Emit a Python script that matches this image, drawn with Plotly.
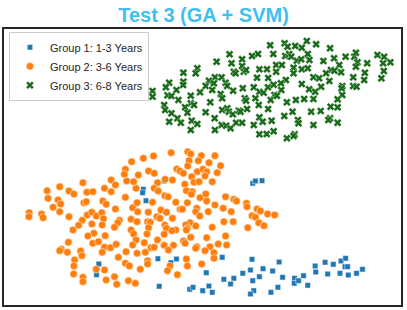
import plotly.graph_objects as go

# Embedding coordinates (dim1 to the right, dim2 downward in image terms)
g1_x = [99.3, 97, 165, 144, 143.3, 146.7, 254, 256.7, 263.3, 158.7, 177.3, 171.7, 223.3, 253.3,
        207.3, 251.7, 264.3, 274, 244, 260.7, 225, 235, 280.5,
        284, 279.3, 272.3, 296, 295.7, 300, 305, 309.3, 316.7, 317.3, 326.7, 329.3, 335, 342.7,
        347.3, 346.7, 349.3, 341.7, 350, 358.3, 364.3,
        160, 190.7, 194, 203.7, 210, 213.3, 231.7, 254, 255, 251.7]
g1_y = [264, 274.7, 181, 189.3, 192.7, 200.7, 183.3, 181, 180.7, 258.7, 259, 262.7, 257.3, 259.3,
        272.7, 270, 268.7, 271, 273.3, 276.7, 279.3, 278.3, 262,
        277.3, 287.3, 292.3, 278.3, 283.3, 280.7, 275.7, 285.3, 266, 272, 262.3, 274, 264.3, 261,
        258.3, 266.7, 266.7, 273.3, 275, 273.3, 269.3,
        286.3, 289.3, 287.3, 290.7, 286, 292.3, 284, 280.7, 290.7, 294]

g2_x = [132.3, 126, 125, 139, 83.3, 111.7, 116, 127.3, 136.7, 60, 47.3, 69.3, 74.3, 87.3, 93.3, 105,
        111.7, 126, 48.3, 58.3, 61, 53.3, 60, 84.3, 86.7, 103.3, 106.7, 116, 133.3, 137.7, 138.3,
        29.3, 29, 41.7, 43.3, 69.3, 87.7, 92.3, 96.7, 102.3, 104, 82.7, 120, 118.3, 131.7, 137.7,
        79, 73.3, 92.3, 102.7, 115, 94.3, 88.3, 105.7, 131.7, 134.3, 68.7, 93.3, 99, 136.7, 133.3,
        105, 111, 116.7, 61.7, 60, 67.7, 81, 82.3, 102.7, 119, 126.7, 137.7, 75, 96.7, 105, 74.3,
        126, 130, 115, 74, 83.3, 106.7, 83.3, 117.3, 129, 136,
        144, 154.3, 172, 188.7, 191.7, 202.3, 216, 190, 199.3, 210, 221.7, 188.7, 149.3, 155,
        177.7, 180.7, 184.3, 192.7, 198.3, 204, 207.7, 206, 218.3, 134.3, 166, 173.3, 158.3, 195,
        200, 213.3, 185.7, 155, 159, 187.3, 193.3, 192.3, 206.7, 165.7, 169, 153.3, 176.7, 188.3,
        201, 207.7, 226.7, 235, 237.7, 216, 224.3, 247.7, 248.3, 149, 161.7, 167.3, 181, 183.3,
        197.7, 196.7, 209.3, 200.7, 232.3, 258.3, 261.7, 269, 276, 253.3, 256.7, 148.3, 151, 157.7,
        160.7, 173.3, 191, 186.7, 196.7, 225, 234.3, 260, 265.3, 249, 149.3, 165.7, 167.3, 176.7,
        172.7, 188.3, 187.3, 213.3, 147.7, 165, 207.7, 191.7, 226.7, 158.3, 145, 184.3, 186, 165,
        174.3, 197.7, 196.7, 211, 219.3, 227.7, 206, 215, 151.7, 155, 169.3, 146, 148.3, 148.3,
        170.7, 187.3, 215, 188.3, 202.7, 141, 168.3, 178.3]
g2_y = [161.7, 169.3, 174.3, 175, 182.7, 180, 185, 181, 188.3, 186.7, 190.7, 191, 194, 192.3, 191.7,
        188.3, 191.7, 197.3, 198.3, 200, 204, 207.3, 211.7, 202.7, 201.7, 201, 204.3, 209, 207.7,
        202.7, 211.7, 212.7, 216.7, 214, 217.7, 216.7, 215, 212.3, 216, 212.7, 218.7, 220.3, 220.3,
        222.7, 219.3, 221.7, 225.3, 230, 224, 225, 227.3, 233.3, 236, 235.7, 230, 234, 242.3, 243.3,
        241.7, 240, 245, 247.3, 247.7, 244.3, 249.3, 250.7, 252.3, 251, 255.7, 252.3, 257.3, 251.7,
        253.3, 260, 269.3, 270, 266, 263.3, 266, 276.7, 274, 277.3, 280, 281.7, 284.3, 280.7, 283.3,
        158.3, 156, 152.7, 151.7, 154, 155.7, 155.7, 160.7, 160.7, 162.7, 165.7, 166, 171, 173.3,
        169, 171, 173.3, 176.7, 171.7, 169.3, 171.7, 176, 172.7, 181.7, 179.3, 180, 182.7, 182.3,
        181.7, 181.7, 184.3, 188.3, 191, 190.7, 191.7, 194.3, 194, 195.7, 196.7, 202.3, 202.3, 202.7,
        197.7, 201, 196.7, 199.3, 201, 205, 208.3, 203.3, 206.7, 212.3, 210, 212.3, 209.3, 209.3,
        208.3, 211.7, 211.7, 216, 211.7, 209, 211, 214, 215, 215.7, 217.3, 221.7, 222.3, 216.7,
        218.3, 218.3, 222.7, 225, 226, 221.7, 221.7, 222.7, 225.7, 227.7, 227.7, 225, 228.3, 230,
        230.7, 228.3, 230, 227.3, 234, 234.3, 237.7, 237.3, 236, 240, 242.7, 241, 243.3, 245.3,
        245.3, 246.7, 248.3, 246.7, 244, 245, 250.7, 252.7, 247.7, 247.3, 250, 252.3, 260.7, 264,
        266, 259, 258.3, 266, 264, 269.3, 270.7, 274.7]

g3_x = [153.3, 153.3, 271.5, 230.7, 243.3, 253.3, 259.3, 217.7, 232.7, 243.3, 245, 247.3, 235, 236.7,
        260.7, 268.3, 277.5, 277.5, 198.3, 196.7, 184.3, 258.3, 269.5, 216, 210, 222.7, 184.3, 184,
        170, 166.7, 177.3, 215, 206.7, 213.3, 226.7, 228.3, 234.3, 244, 255, 260.7, 265, 269.3, 275,
        275.8, 201, 191.7, 168.3, 172.3, 179.3, 191.7, 211.3, 221.7, 223.3, 246, 247.3, 256.7, 272,
        260, 269.5, 165, 166, 172.3, 186, 188.3, 195, 206.7, 223.3, 228.3, 230, 234, 240, 241.7,
        248.3, 170, 178.3, 181.7, 192.7, 198.3, 215.7, 222.7, 227.3, 231.7, 237.3, 243.3, 255,
        260.7, 264, 273, 191.7, 216, 260.7, 268, 275,
        286, 289, 296.7, 303.3, 308.3, 317.7, 331.7, 274.7, 286.7, 290.7, 292.7, 298.3, 302.7,
        309.3, 311, 325, 335.7, 347.3, 356, 357.7, 379.3, 386, 359.3, 369, 385, 392.3, 283.3, 341,
        357.7, 295, 303.3, 309.3, 332.7, 336, 342.7, 327.7, 295, 385.7, 366.7, 315, 320.7, 355,
        366, 383.3, 287.3, 331, 282.3, 303.3, 322.7, 344, 343.3, 355, 358.3, 310.7, 316.7, 282.7,
        278.3, 344, 339.3, 288.3, 297.3, 305.7, 315, 332.3, 339.3, 294, 312.7, 322.3, 285.7, 299.3,
        300, 331.7, 330, 339.3, 315, 296, 295, 288.3]
g3_y = [91, 96.7, 45.3, 54.3, 59.3, 56, 54, 61.7, 63.3, 66, 71.7, 70, 71.7, 73.3, 69.3, 69.3, 65,
        71.7, 68.3, 73.3, 72.7, 77.7, 78, 77.3, 80.7, 77.3, 81.7, 85, 82.7, 87.3, 90, 83.3, 86, 90,
        82.7, 86, 90.7, 88.3, 87.3, 91.7, 92.7, 87.3, 84.7, 95, 92.3, 95.7, 95.3, 96, 100, 103.3,
        102.3, 94, 98.3, 98.3, 100.7, 98.3, 100, 105, 109, 105, 110, 113.3, 107.3, 112.7, 105, 112.3,
        110, 108.3, 111.7, 114.3, 110.7, 111.7, 109, 121.7, 118.3, 122.7, 120.7, 124, 118.3, 125,
        125.7, 128.3, 122.7, 122.7, 125, 117.3, 121.7, 120.7, 130, 130, 134.3, 134, 131.3,
        43.3, 46.7, 46, 47.7, 41, 44.3, 48.3, 54, 56, 54, 56.7, 60.7, 59.3, 54, 60, 61, 58.3, 56.7,
        56.7, 52.7, 55, 56.7, 62.3, 63.3, 63.3, 62.3, 65, 65, 66.7, 67.7, 69.3, 68.3, 70, 70.7, 72.3,
        73.3, 73.3, 71, 72.7, 77.3, 78.3, 77.3, 80, 78.3, 80, 81, 83.3, 84, 86.7, 86, 88.3, 86, 86.7,
        89.3, 91.7, 90, 95.7, 95, 99.3, 102.3, 100, 99, 99, 106.7, 107.3, 111.7, 111.7, 111, 116,
        120, 123.3, 118.3, 120, 122.7, 125, 134.3, 136, 138.3]

group_names = ["Group 1: 1-3 Years", "Group 2: 3-6 Years", "Group 3: 6-8 Years"]
title_text = "Test 3 (GA + SVM)"

H = 310  # flip image-style dim2 so larger values are higher
fig = go.Figure()
fig.add_trace(go.Scatter(
    x=g1_x, y=[H - v for v in g1_y], mode="markers", name=group_names[0],
    marker=dict(symbol="square", size=5.5, color="#1f77b4",
                line=dict(color="white", width=0.5))))
fig.add_trace(go.Scatter(
    x=g2_x, y=[H - v for v in g2_y], mode="markers", name=group_names[1],
    marker=dict(symbol="circle", size=7.5, color="#ff7f0e",
                line=dict(color="white", width=0.5))))
fig.add_trace(go.Scatter(
    x=g3_x, y=[H - v for v in g3_y], mode="markers", name=group_names[2],
    marker=dict(symbol="x", size=7, color="#196b19",
                line=dict(color="white", width=0.4))))

axis_common = dict(showgrid=False, zeroline=False, showticklabels=False, ticks="",
                   showline=True, mirror=True, linecolor="#262626", linewidth=2)
fig.update_layout(
    width=407, height=310,
    margin=dict(l=4, r=4, t=29, b=5),
    paper_bgcolor="white", plot_bgcolor="white",
    title=dict(text=title_text, x=0.5, xanchor="center", y=1 - 15 / 310, yanchor="middle",
               font=dict(family="Liberation Sans, Arial, sans-serif", size=20,
                         color="#3fbff0", weight="bold")),
    xaxis=dict(range=[4, 403], **axis_common),
    yaxis=dict(range=[H - 305, H - 29], **axis_common),
    legend=dict(x=0.0125, y=0.99, xanchor="left", yanchor="top",
                bgcolor="rgba(255,255,255,0.85)", bordercolor="#cccccc", borderwidth=1,
                font=dict(family="Liberation Sans, Arial, sans-serif", size=11, color="#262626"),
                tracegroupgap=0),
    showlegend=True,
)
fig.write_html("out.html", config={"displayModeBar": False},
               post_script="document.body.style.margin='0';document.body.style.overflow='hidden';")
